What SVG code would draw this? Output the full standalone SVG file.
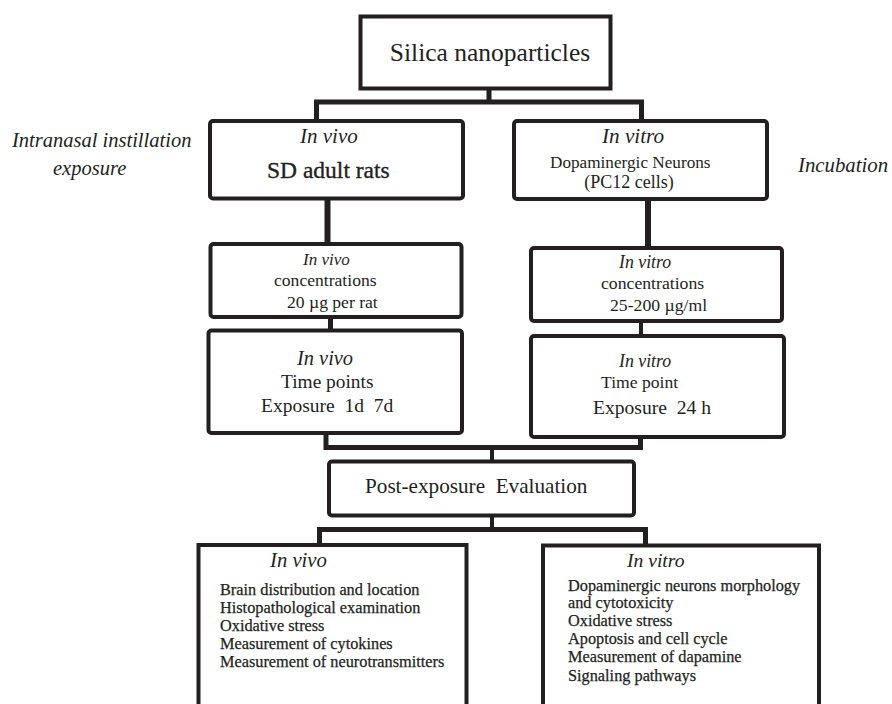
<svg xmlns="http://www.w3.org/2000/svg" width="892" height="704" viewBox="0 0 892 704">
<style>
.box{fill:#fff;stroke:#231f20;stroke-width:4}
.c{fill:none;stroke:#231f20;stroke-linejoin:miter;stroke-linecap:butt}
text{font-family:"Liberation Serif","Times New Roman",serif;fill:#231f20}
.i{font-style:italic}
.b{stroke:#231f20;stroke-width:0.35}
.li{font-size:16.3px;stroke:#231f20;stroke-width:0.25}
</style>
<rect width="892" height="704" fill="#fff"/>
<g id="connectors">
<path class="c" stroke-width="5" d="M489 90 V102"/>
<path class="c" stroke-width="5" d="M316.5 120 V102 H641.5 V120"/>
<path class="c" stroke-width="6" d="M327.5 200 V243"/>
<path class="c" stroke-width="6" d="M648 200 V247"/>
<path class="c" stroke-width="5" d="M330.5 318 V330"/>
<path class="c" stroke-width="4" d="M641 322 V335"/>
<path class="c" stroke-width="5" d="M326 434 V447.5 H640.5 V437"/>
<path class="c" stroke-width="4" d="M492 449 V461"/>
<path class="c" stroke-width="4" d="M492 516 V529.5"/>
<path class="c" stroke-width="5" d="M319.5 546 V529.5 H645.5 V546"/>
</g>
<g id="silica">
<rect class="box" x="360.5" y="16.5" width="250" height="72" stroke-width="5"/>
<text x="490" y="61" font-size="25.5" text-anchor="middle">Silica nanoparticles</text>
</g>
<g id="label-intranasal">
<text class="i" x="12" y="147" font-size="20.5">Intranasal instillation</text>
<text class="i" x="53" y="175" font-size="20.5">exposure</text>
</g>
<g id="label-incubation">
<text class="i" x="798" y="172" font-size="20.8">Incubation</text>
</g>
<g id="invivo-rats">
<rect class="box" x="210" y="121" width="253" height="77.5" rx="3"/>
<text class="i" x="300" y="143" font-size="21">In vivo</text>
<text class="b" x="267" y="178" font-size="23.5">SD adult rats</text>
</g>
<g id="invitro-pc12">
<rect class="box" x="514" y="121" width="253" height="78" rx="3"/>
<text class="i" x="602" y="143" font-size="21.2">In vitro</text>
<text x="550" y="167.5" font-size="17.2">Dopaminergic Neurons</text>
<text x="629" y="188" font-size="18" text-anchor="middle">(PC12 cells)</text>
</g>
<g id="invivo-conc">
<rect class="box" x="210.5" y="244" width="251" height="73" rx="3"/>
<text class="i" x="303" y="265" font-size="17">In vivo</text>
<text x="274" y="286" font-size="17.6">concentrations</text>
<text x="287" y="308" font-size="17.6">20 µg per rat</text>
</g>
<g id="invivo-time">
<rect class="box" x="208.5" y="330.5" width="253.5" height="102.5" rx="3"/>
<text class="i" x="297" y="365" font-size="20.4">In vivo</text>
<text x="281" y="388" font-size="19.4">Time points</text>
<text x="261" y="412" font-size="19.5">Exposure&#160; 1d&#160; 7d</text>
</g>
<g id="invitro-conc">
<rect class="box" x="531" y="248" width="251" height="73" rx="3"/>
<text class="i" x="619" y="268" font-size="17.8">In vitro</text>
<text x="601" y="289" font-size="17.7">concentrations</text>
<text x="610" y="311" font-size="17.7">25-200 µg/ml</text>
</g>
<g id="invitro-time">
<rect class="box" x="531" y="336" width="253" height="101" rx="3"/>
<text class="i" x="619" y="367" font-size="17.8">In vitro</text>
<text x="601" y="388" font-size="17.6">Time point</text>
<text x="593" y="414" font-size="19.6">Exposure&#160; 24 h</text>
</g>
<g id="post-exposure">
<rect class="box" x="329" y="461.5" width="305" height="54" rx="3"/>
<text x="365" y="493" font-size="21.2">Post-exposure&#160; Evaluation</text>
</g>
<g id="invivo-eval">
<rect class="box" x="198.5" y="545" width="268" height="175"/>
<text class="i" x="270" y="567" font-size="20.7">In vivo</text>
<text class="li" x="220" y="595">Brain distribution and location</text>
<text class="li" x="220" y="612.7">Histopathological examination</text>
<text class="li" x="220" y="630.7">Oxidative stress</text>
<text class="li" x="220" y="649">Measurement of cytokines</text>
<text class="li" x="220" y="667.3">Measurement of neurotransmitters</text>
</g>
<g id="invitro-eval">
<rect class="box" x="543" y="545.5" width="276" height="175"/>
<text class="i" x="627" y="567" font-size="19.6">In vitro</text>
<text class="li" x="568" y="590.7">Dopaminergic neurons morphology</text>
<text class="li" x="568" y="608.3">and cytotoxicity</text>
<text class="li" x="568" y="626">Oxidative stress</text>
<text class="li" x="568" y="644">Apoptosis and cell cycle</text>
<text class="li" x="568" y="662.3">Measurement of dapamine</text>
<text class="li" x="568" y="680.7">Signaling pathways</text>
</g>
</svg>
